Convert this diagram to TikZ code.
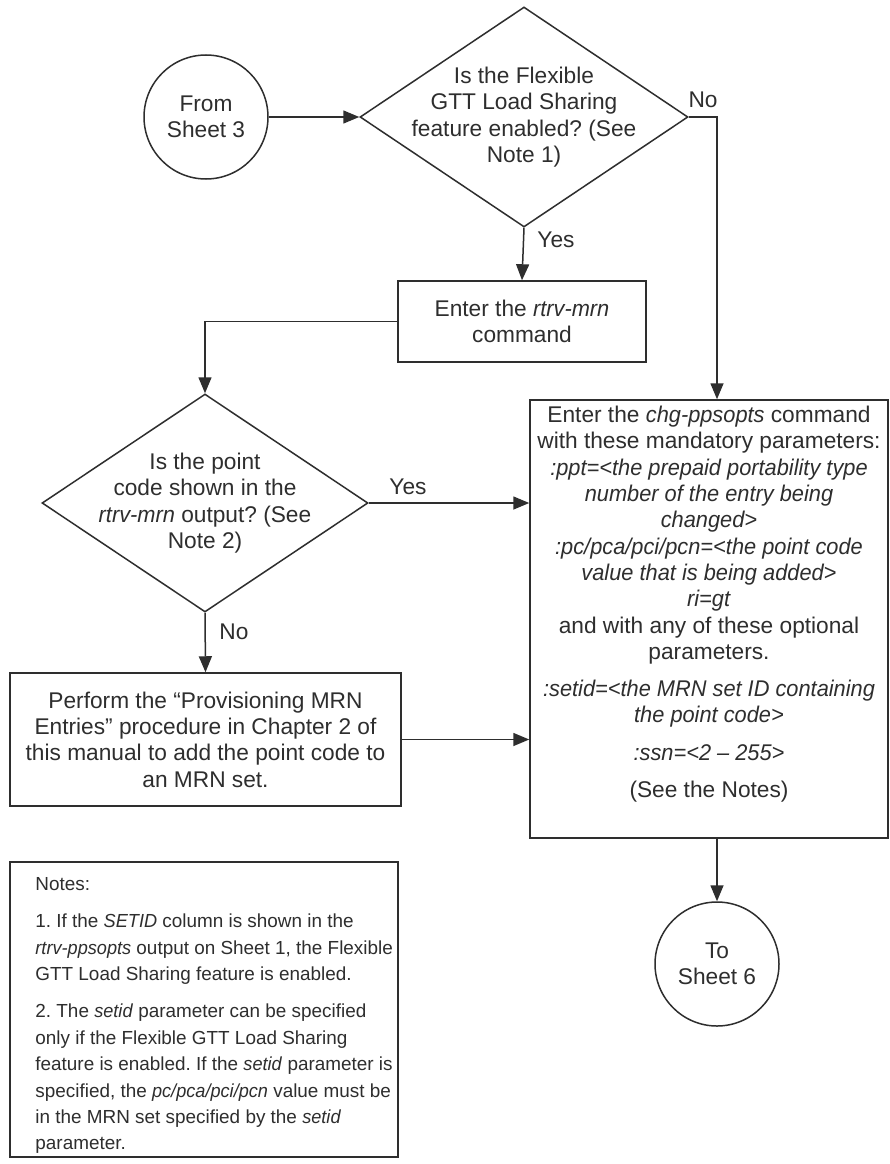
\documentclass[tikz,border=0pt]{standalone}
\usepackage{fontspec}
\setmainfont{Liberation Sans}[ItalicFeatures={FakeStretch=0.96}]
\usetikzlibrary{positioning,arrows.meta,shapes.geometric}
\definecolor{inkgray}{HTML}{2E2E2E}
\frenchspacing

\begin{document}
\begin{tikzpicture}[x=1pt, y=-1pt, >={Triangle[length=16pt,width=13pt]},
    every node/.style={text=inkgray, font=\fontsize{22.7}{26.3}\selectfont},
    flow/.style={draw=inkgray, line width=1.5pt},
    arrow/.style={flow, ->},
    terminal/.style={flow, circle, minimum size=124pt, inner sep=0pt, align=center},
    decision/.style={flow, diamond, inner sep=0pt},
    process/.style={flow, rectangle, inner sep=0pt, align=center},
    notetext/.style={align=left, inner sep=0pt, font=\fontsize{18.9}{26.4}\selectfont},
    branch/.style={inner sep=0pt}]
    \path[use as bounding box, fill=white] (0,0) rectangle (890,1164);

    % --- Entry point and first question ---
    \node[terminal] (from) at (206,117) {From\\Sheet 3};
    \node[decision, minimum width=328pt, minimum height=220pt] (flexq) at (524,117) {};
    \node[align=center] (flexqtxt) at (flexq.center) {Is the Flexible\\GTT Load Sharing\\feature enabled? (See\\Note 1)};
    \draw[arrow] (from) -- (flexq.west);

    % --- Retrieve the MRN table ---
    \node[process, minimum width=248pt, minimum height=81pt] (rtrvmrn) at (522,321.5)
        {Enter the \textit{rtrv-mrn}\\command};
    \draw[arrow] (flexq.south) -- (rtrvmrn.north);
    \node[branch] (flexyes) at (556,240) {Yes};

    % --- Second question ---
    \node[decision, minimum width=326pt, minimum height=218pt] (pcq) at (205,503) {};
    \node[align=center] (pcqtxt) at (pcq.center) {Is the point\\code shown in the\\\textit{rtrv-mrn} output? (See\\Note 2)};
    \draw[arrow] (rtrvmrn.west) -| (pcq.north);

    % --- Provision the MRN entries ---
    \node[process, minimum width=391pt, minimum height=133pt] (provmrn) at (205.5,739.5)
        {Perform the “Provisioning MRN\\Entries” procedure in Chapter 2 of\\this manual to add the point code to\\an MRN set.};
    \draw[arrow] (pcq.south) -- (provmrn.north);
    \node[branch] (pcno) at (234,632) {No};

    % --- Change the prepaid options ---
    \node[process, minimum width=358pt, minimum height=438pt] (chgpps) at (709,619)
        {Enter the \textit{chg-ppsopts} command\\
         with these mandatory parameters:\\
         \textit{:ppt=<the prepaid portability type}\\
         \textit{number of the entry being}\\
         \textit{changed>}\\
         \textit{:pc/pca/pci/pcn=<the point code}\\
         \textit{value that is being added>}\\
         \textit{ri=gt}\\
         and with any of these optional\\
         parameters.\\[11pt]
         \textit{:setid=<the MRN set ID containing}\\
         \textit{the point code>}\\[11pt]
         \textit{:ssn=<2 – 255>}\\[11pt]
         (See the Notes)\\[8pt]};
    \coordinate (nobend) at (717,117);
    \draw[arrow] (flexq.east) -- (nobend) -- (nobend |- chgpps.north);
    \node[branch] (flexno) at (703,100) {No};
    \draw[arrow] (pcq.east) -- (pcq.east -| chgpps.west);
    \node[branch] (pcyes) at (408,487) {Yes};
    \draw[arrow] (provmrn.east) -- (provmrn.east -| chgpps.west);

    % --- Exit point ---
    \node[terminal] (to) at (717,964) {To\\Sheet 6};
    \draw[arrow] (to.north |- chgpps.south) -- (to.north);

    % --- Notes ---
    \node[process, minimum width=388pt, minimum height=295pt] (notes) at (204,1009.5) {};
    \node[notetext, right=26pt of notes.west, yshift=-6pt] (notestxt)
        {Notes:\\[11pt]
         1. If the \textit{SETID} column is shown in the\\
         \textit{rtrv-ppsopts} output on Sheet 1, the Flexible\\
         GTT Load Sharing feature is enabled.\\[11pt]
         2. The \textit{setid} parameter can be specified\\
         only if the Flexible GTT Load Sharing\\
         feature is enabled. If the \textit{setid} parameter is\\
         specified, the \textit{pc/pca/pci/pcn} value must be\\
         in the MRN set specified by the \textit{setid}\\
         parameter.};
\end{tikzpicture}
\end{document}
